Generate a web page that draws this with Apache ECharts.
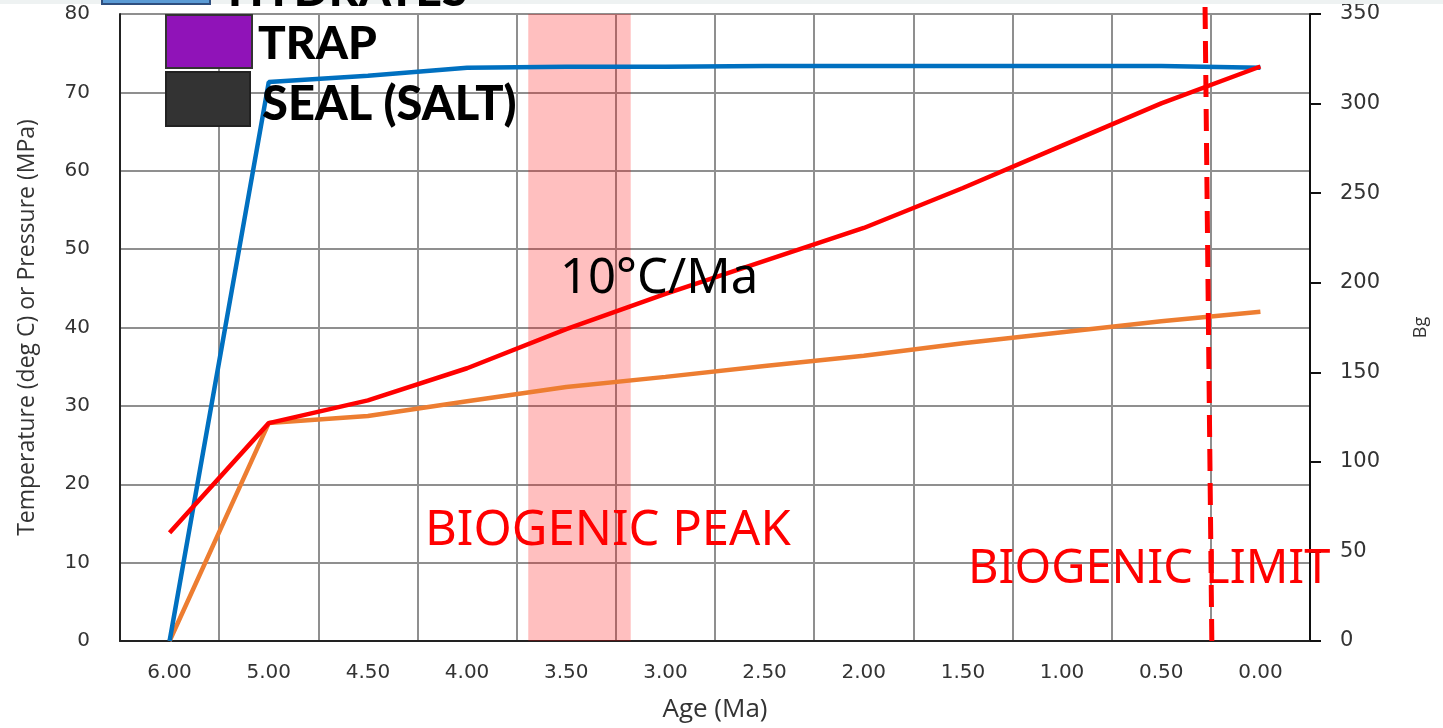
<!DOCTYPE html>
<html>
<head>
<meta charset="utf-8">
<script src="https://cdn.jsdelivr.net/npm/echarts@6/dist/echarts.min.js"></script>
<style>
html,body{margin:0;padding:0;background:#fff;}
#chart{width:1443px;height:728px;}
</style>
</head>
<body>
<div id="chart"></div>
<script>
// ---- data ----
const categories = ['6.00','5.00','4.50','4.00','3.50','3.00','2.50','2.00','1.50','1.00','0.50','0.00'];
const temperature = [13.8, 27.8, 30.7, 34.8, 39.8, 44.3, 48.5, 52.7, 57.8, 63.2, 68.6, 73.3];
const pressure    = [0, 27.8, 28.7, 30.6, 32.4, 33.7, 35.1, 36.4, 38.0, 39.4, 40.8, 42.0];
const bg          = [0, 312, 315.5, 320, 320.5, 320.5, 321, 321, 321, 321, 321, 320];
const leftTicks   = [0, 10, 20, 30, 40, 50, 60, 70, 80];
const rightTicks  = [0, 50, 100, 150, 200, 250, 300, 350];
// biogenic peak band and biogenic limit line, in category-index units (0..12)
const peakBand    = [4.117, 5.150];
const limitLine   = [[11.01, 0], [10.94, 83]];
const legendItems = ['HYDRATES', 'TRAP', 'SEAL (SALT)'];
const annotations = ['10°C/Ma', 'BIOGENIC PEAK', 'BIOGENIC LIMIT'];

const chart = echarts.init(document.getElementById('chart'), null, {renderer: 'canvas'});
const gridCol = '#8f8f8f';
const labelFont = 'DejaVu Sans';

const option = {
  animation: false,
  backgroundColor: '#ffffff',
  grid: {left: 120, right: 133, top: 14, bottom: 87},
  xAxis: [{
    type: 'category',
    data: categories,
    boundaryGap: true,
    axisLine: {lineStyle: {color: '#222', width: 2}},
    axisTick: {show: false},
    splitLine: {show: true, lineStyle: {color: gridCol, width: 2}},
    axisLabel: {fontFamily: labelFont, fontSize: 20, color: '#333', margin: 22, interval: 0},
    name: 'Age (Ma)',
    nameLocation: 'middle',
    nameGap: 56,
    nameTextStyle: {fontFamily: 'Open Sans', fontSize: 26, color: '#333'}
  }, {
    type: 'value', min: 0, max: categories.length, show: false
  }],
  yAxis: [{
    type: 'value',
    position: 'left',
    min: leftTicks[0], max: leftTicks[leftTicks.length - 1], interval: leftTicks[1] - leftTicks[0],
    axisLine: {show: true, lineStyle: {color: '#222', width: 2}},
    axisTick: {show: false},
    splitLine: {show: true, lineStyle: {color: gridCol, width: 2}},
    axisLabel: {fontFamily: labelFont, fontSize: 20, color: '#333', margin: 30},
    name: 'Temperature (deg C) or Pressure (MPa)',
    nameLocation: 'middle',
    nameRotate: 90,
    nameGap: 81,
    nameTextStyle: {fontFamily: 'Open Sans', fontSize: 23, color: '#333'}
  }, {
    type: 'value',
    position: 'right',
    min: rightTicks[0], max: rightTicks[rightTicks.length - 1], interval: rightTicks[1] - rightTicks[0],
    axisLine: {show: true, lineStyle: {color: '#111', width: 2}},
    axisTick: {show: true, inside: false, length: 11, lineStyle: {color: '#111', width: 2}},
    splitLine: {show: false},
    axisLabel: {fontFamily: labelFont, fontSize: 21, color: '#333', margin: 30},
    name: 'Bg',
    nameLocation: 'middle',
    nameRotate: 90,
    nameGap: 102,
    nameTextStyle: {fontFamily: 'Open Sans', fontSize: 18, color: '#333'}
  }],
  series: [{
    name: 'Pressure',
    type: 'line',
    data: pressure,
    xAxisIndex: 0, yAxisIndex: 0,
    symbol: 'none',
    lineStyle: {color: '#ED7D31', width: 4.5},
    z: 3
  }, {
    name: 'Temperature',
    type: 'line',
    data: temperature,
    xAxisIndex: 0, yAxisIndex: 0,
    symbol: 'none',
    lineStyle: {color: '#FF0000', width: 4.5},
    z: 4
  }, {
    name: 'Bg',
    type: 'line',
    data: bg,
    xAxisIndex: 0, yAxisIndex: 1,
    symbol: 'none',
    lineStyle: {color: '#0070C0', width: 4.5},
    z: 3
  }, {
    name: 'Biogenic limit',
    type: 'line',
    data: limitLine,
    xAxisIndex: 1, yAxisIndex: 0,
    symbol: 'none',
    clip: false,
    lineStyle: {color: '#FF0000', width: 5, type: [22, 12]},
    z: 6
  }, {
    name: 'Biogenic peak',
    type: 'line',
    data: [[peakBand[0], 0]],
    xAxisIndex: 1, yAxisIndex: 0,
    symbol: 'none',
    showSymbol: false,
    lineStyle: {width: 0},
    z: 20,
    markArea: {
      silent: true,
      itemStyle: {color: 'rgba(255,0,0,0.25)'},
      data: [[{xAxis: peakBand[0]}, {xAxis: peakBand[1]}]]
    }
  }],
  graphic: [
    {type: 'rect', z: 1, shape: {x: 0, y: 0, width: 1443, height: 4}, style: {fill: '#eef2f2'}},
    // legend (partly cut off at the top, as in the reference)
    {type: 'rect', z: 10, shape: {x: 102, y: -50, width: 108, height: 54}, style: {fill: '#5b9bd5', stroke: '#2f4f7f', lineWidth: 2}},
    {type: 'text', z: 10, style: {text: legendItems[0], x: 228, y: -9, verticalAlign: 'middle', fontFamily: 'Lato', fontWeight: 900, fontSize: 46, fill: '#000'}},
    {type: 'rect', z: 10, shape: {x: 166, y: 15, width: 86, height: 53}, style: {fill: '#9013B8', stroke: '#333', lineWidth: 2}},
    {type: 'text', z: 10, style: {text: legendItems[1], x: 258, y: 44, verticalAlign: 'middle', fontFamily: 'Lato', fontWeight: 900, fontSize: 46, fill: '#000'}},
    {type: 'rect', z: 10, shape: {x: 166, y: 72, width: 84, height: 54}, style: {fill: '#333333', stroke: '#222', lineWidth: 2}},
    {type: 'text', z: 10, style: {text: legendItems[2], x: 262, y: 105, verticalAlign: 'middle', fontFamily: 'Lato', fontWeight: 900, fontSize: 47, fill: '#000'}},
    // annotations
    {type: 'text', z: 10, style: {text: annotations[0], x: 560, y: 279, verticalAlign: 'middle', fontFamily: 'Noto Sans', fontSize: 49, fill: '#000'}},
    {type: 'text', z: 10, style: {text: annotations[1], x: 425, y: 531, verticalAlign: 'middle', fontFamily: 'Noto Sans', fontSize: 49, fill: '#FF0000'}},
    {type: 'text', z: 10, style: {text: annotations[2], x: 968, y: 570, verticalAlign: 'middle', fontFamily: 'Noto Sans', fontSize: 47, fill: '#FF0000'}}
  ]
};
chart.setOption(option);
</script>
</body>
</html>
